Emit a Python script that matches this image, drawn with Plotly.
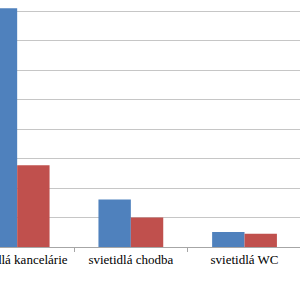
import plotly.graph_objects as go

categories = ["svietidlá kancelárie", "svietidlá chodba", "svietidlá WC"]
series_a = [8.09, 1.61, 0.51]
series_b = [2.77, 1.0, 0.45]

fig = go.Figure()
fig.add_trace(go.Bar(x=categories, y=series_a, marker=dict(color="#4f81bd", line=dict(width=0))))
fig.add_trace(go.Bar(x=categories, y=series_b, marker=dict(color="#c0504d", line=dict(width=0))))

fig.update_layout(
    width=300, height=300,
    margin=dict(l=0, r=0, t=0, b=53, pad=0),
    paper_bgcolor="white", plot_bgcolor="white",
    showlegend=False,
    barmode="group", bargap=0.43, bargroupgap=0,
    font=dict(family="'Times New Roman', 'Liberation Serif', serif", size=13, color="black"),
)
fig.update_xaxes(
    range=[-0.151, 2.488], automargin=False,
    showline=True, linecolor="#a6a6a6", linewidth=1,
    ticks="outside", ticklen=4, tickcolor="#a6a6a6", tickson="boundaries",
    showgrid=False,
    tickfont=dict(family="'Times New Roman', 'Liberation Serif', serif", size=13, color="black"),
)
fig.update_yaxes(
    range=[0, 247/29.5], dtick=1, automargin=False,
    showticklabels=False, showgrid=True, gridcolor="#c6c6c6", gridwidth=1,
    zeroline=False, showline=False,
)
fig.write_html("out.html")
